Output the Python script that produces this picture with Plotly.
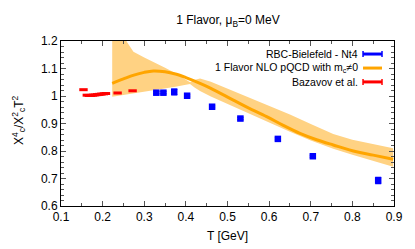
import plotly.graph_objects as go

# RBC-Bielefeld - Nt4 (lattice)
rbc_T = [0.329, 0.346, 0.372, 0.403, 0.463, 0.531, 0.621, 0.705, 0.862]
rbc_val = [1.012, 1.012, 1.015, 1.001, 0.961, 0.918, 0.844, 0.781, 0.693]
rbc_err = [0.004, 0.004, 0.010, 0.004, 0.004, 0.004, 0.004, 0.004, 0.011]

# Bazavov et al.
baz_T = [0.154, 0.162, 0.167, 0.172, 0.177, 0.182, 0.187, 0.192, 0.197, 0.203, 0.208, 0.236, 0.272]
baz_val = [1.023, 1.003, 1.002, 1.002, 1.003, 1.004, 1.005, 1.006, 1.007, 1.008, 1.009, 1.011, 1.019]

# 1 Flavor NLO pQCD with m_c != 0 : central curve
pqcd_T = [0.223, 0.25, 0.275, 0.30, 0.322, 0.35, 0.375, 0.40, 0.434, 0.46, 0.514, 0.55, 0.594,
          0.634, 0.674, 0.714, 0.754, 0.81, 0.85, 0.898]
pqcd_val = [1.046, 1.062, 1.076, 1.086, 1.091, 1.088, 1.080, 1.067, 1.046, 1.028, 0.985, 0.957, 0.925,
            0.893, 0.864, 0.841, 0.822, 0.797, 0.785, 0.770]

# uncertainty band
band_T = [0.223, 0.24, 0.258, 0.274, 0.30, 0.325, 0.35, 0.375, 0.40, 0.41, 0.42, 0.434, 0.46, 0.514,
          0.55, 0.60, 0.65, 0.70, 0.754, 0.80, 0.85, 0.898]
band_lo = [0.997, 1.001, 1.004, 1.008, 1.015, 1.022, 1.028, 1.034, 1.041, 1.044, 1.032, 1.018, 0.998,
           0.961, 0.937, 0.903, 0.870, 0.838, 0.808, 0.786, 0.764, 0.743]
band_hi = [1.40, 1.29, 1.197, 1.161, 1.140, 1.122, 1.103, 1.083, 1.061, 1.050, 1.058, 1.064, 1.052,
           1.018, 0.997, 0.966, 0.933, 0.898, 0.862, 0.841, 0.824, 0.810]

ORANGE = "#FFA500"
BAND = "#FFD283"
BLUE = "#0000FF"
RED = "#FF0000"
FONT = "Liberation Sans, Arial, sans-serif"

fig = go.Figure()
fig.add_trace(go.Scatter(x=band_T, y=band_lo, mode="lines", line=dict(width=0, color=BAND),
                         showlegend=False, hoverinfo="skip"))
fig.add_trace(go.Scatter(x=band_T, y=band_hi, mode="lines", line=dict(width=0, color=BAND),
                         fill="tonexty", fillcolor=BAND, showlegend=False, hoverinfo="skip"))
fig.add_trace(go.Scatter(x=pqcd_T, y=pqcd_val, mode="lines", line=dict(color=ORANGE, width=3, shape="spline"),
                         name="1 Flavor NLO pQCD with m<sub>c</sub>≠0", showlegend=False))
fig.add_trace(go.Scatter(x=baz_T, y=baz_val, mode="markers",
                         marker=dict(symbol="line-ew", size=6, line=dict(color=RED, width=3)),
                         name="Bazavov et al.", showlegend=False))
fig.add_trace(go.Scatter(x=rbc_T, y=rbc_val, mode="markers",
                         marker=dict(symbol="square", size=6.5, color=BLUE),
                         error_y=dict(type="data", array=rbc_err, color=BLUE, thickness=1.5, width=3),
                         name="RBC-Bielefeld - Nt4", showlegend=False))

# gnuplot-style legend (text right, key sample to the right)
legend_items = [("RBC-Bielefeld - Nt4", BLUE, True, 0.921),
                ("1 Flavor NLO pQCD with m<sub>c</sub>≠0", ORANGE, False, 0.836),
                ("Bazavov et al.", RED, True, 0.752)]
for text, col, caps, yp in legend_items:
    fig.add_annotation(x=0.892, y=yp, xref="paper", yref="paper", text=text, showarrow=False,
                       xanchor="right", yanchor="middle", xshift=2,
                       font=dict(size=10.5, color="#000", family=FONT))
    fig.add_shape(type="line", xref="paper", yref="paper", x0=0.907, x1=0.964, y0=yp, y1=yp,
                  line=dict(color=col, width=3))
    if caps:
        for xc in (0.907, 0.964):
            fig.add_shape(type="line", xref="paper", yref="paper", x0=xc, x1=xc, y0=yp - 0.018,
                          y1=yp + 0.018, line=dict(color=col, width=1.5))

# axis titles placed as gnuplot does
fig.add_annotation(x=0.5, y=-0.182, xref="paper", yref="paper", text="T [GeV]", showarrow=False,
                   xanchor="center", yanchor="middle", font=dict(size=12, color="#000", family=FONT))
fig.add_annotation(x=-0.127, y=0.52, xref="paper", yref="paper", textangle=-90,
                   text="X<sup>4</sup><sub>c</sub>/X<sup>2</sup><sub>c</sub>T<sup>2</sup>", showarrow=False,
                   xanchor="center", yanchor="middle", font=dict(size=12, color="#000", family=FONT))

axis_common = dict(showline=True, linecolor="#000", linewidth=1, mirror="allticks", ticks="inside",
                   ticklen=5, tickcolor="#555", showgrid=False, zeroline=False, automargin=False,
                   tickfont=dict(size=12, color="#000", family=FONT))
fig.update_xaxes(range=[0.1, 0.9], dtick=0.1, tickformat=".1f",
                 minor=dict(ticks="inside", ticklen=3, dtick=0.05, tickcolor="#555"),
                 **axis_common)
fig.update_yaxes(range=[0.6, 1.2], tickvals=[0.6, 0.7, 0.8, 0.9, 1.0, 1.1, 1.2],
                 ticktext=["0.6", "0.7", "0.8", "0.9", "1", "1.1", "1.2"],
                 minor=dict(ticks="inside", ticklen=3, dtick=0.02, tickcolor="#555"),
                 **axis_common)
# the page body adds an 8 px offset, so margins are reduced by 8 px on left/top
fig.update_layout(width=415, height=249, margin=dict(l=53, r=29, t=33, b=51),
                  paper_bgcolor="white", plot_bgcolor="white",
                  title=dict(text="1 Flavor, μ<sub>B</sub>=0 MeV", x=0.530, xanchor="center", y=0.952,
                             yanchor="middle", font=dict(size=12, color="#000", family=FONT)),
                  showlegend=False)
fig.write_html("out.html")
